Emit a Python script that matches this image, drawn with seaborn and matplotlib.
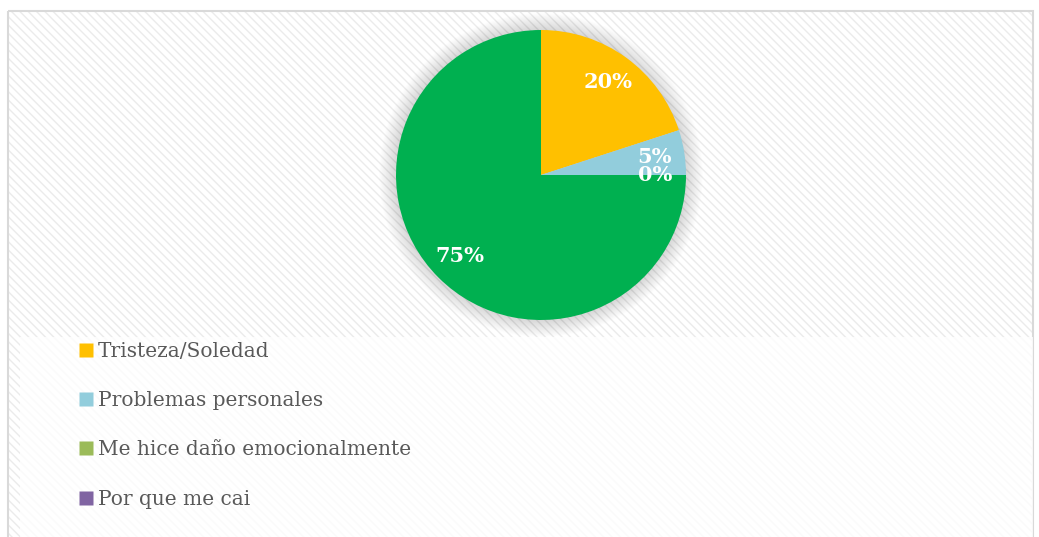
import numpy as np
import matplotlib
matplotlib.use("Agg")
import matplotlib.pyplot as plt
from matplotlib.patches import Rectangle, Circle
from matplotlib.lines import Line2D
import seaborn as sns

# datos del grafico
categorias = ["Tristeza/Soledad", "Problemas personales",
              "Me hice daño emocionalmente", "Por que me cai"]
porcentajes = [20, 5, 0, 75]
colores_sector = ["#FFC000", "#92CDDC", "#9BBB59", "#00B050"]
colores_leyenda = ["#FFC000", "#92CDDC", "#9BBB59", "#8064A2"]

sns.set_theme(style="white")
plt.rcParams["font.family"] = ["DejaVu Serif"]

W, H = 1039, 537
fig = plt.figure(figsize=(W / 100, H / 100), dpi=100)
fig.patch.set_facecolor("white")

# fondo con rayas diagonales
bg = fig.add_axes([0, 0, 1, 1])
bg.set_xlim(0, W)
bg.set_ylim(H, 0)
bg.axis("off")
bg.add_patch(Rectangle((8, 11), 1025, 540, facecolor="white",
                       edgecolor="#EBEBEB", hatch="\\\\\\\\", linewidth=0))
bg.add_patch(Rectangle((8, 11), 1025, 540, facecolor="none",
                       edgecolor="#D9D9D9", linewidth=1.5))
bg.add_patch(Rectangle((20, 337), 1013, 210, facecolor="white",
                       edgecolor="none", alpha=0.8))

# pastel
cx, cy, r = 541, 175, 145
ax = fig.add_axes([(cx - r) / W, 1 - (cy + r) / H, 2 * r / W, 2 * r / H])
ax.axis("off")

# sombra difusa
for k in range(22):
    ax.add_patch(Circle((0, 0), 0.99 + 0.006 * k, facecolor="#000000",
                        alpha=0.009, edgecolor="none", clip_on=False, zorder=0))

wedges, textos, autotextos = ax.pie(
    porcentajes, colors=colores_sector, startangle=90, counterclock=False,
    autopct=lambda p: f"{p:.0f}%", pctdistance=0.79,
    wedgeprops=dict(linewidth=0), radius=1.0,
    textprops=dict(color="white", fontsize=15, fontweight="bold"))
ax.set_xlim(-1, 1)
ax.set_ylim(-1, 1)
ax.set_aspect("equal")

# leyenda
handles = [Line2D([], [], marker="s", linestyle="none", markersize=9.5,
                  markerfacecolor=c, markeredgecolor="none") for c in colores_leyenda]
fig.legend(handles, categorias, loc="upper left",
           bbox_to_anchor=(70 / W, 1 - 332 / H), frameon=False,
           fontsize=14.5, labelcolor="#595959", handlelength=0.6,
           handletextpad=0.3, labelspacing=1.5, borderpad=0)

fig.savefig("out.png", dpi=100)
